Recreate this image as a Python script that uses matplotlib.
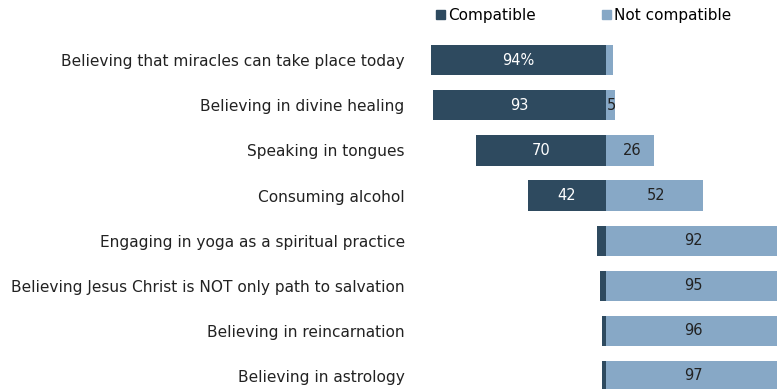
import matplotlib.pyplot as plt
from matplotlib.patches import Patch

plt.rcParams['font.family'] = ['DejaVu Sans']

items = ["Believing that miracles can take place today",
         "Believing in divine healing",
         "Speaking in tongues",
         "Consuming alcohol",
         "Engaging in yoga as a spiritual practice",
         "Believing Jesus Christ is NOT only path to salvation",
         "Believing in reincarnation",
         "Believing in astrology"]
compatible = [94, 93, 70, 42, 5, 3, 2, 2]
not_compatible = [4, 5, 26, 52, 92, 95, 96, 97]
comp_labels = ["94%", "93", "70", "42", "", "", "", ""]
nc_labels = ["", "5", "26", "52", "92", "95", "96", "97"]

dark = "#2e4a5f"
light = "#87a8c6"
txt = "#222222"

W, H = 777, 389
fig = plt.figure(figsize=(W / 100, H / 100), dpi=100)
ax = fig.add_axes([420 / W, 0, 1 - 420 / W, 1])

y = list(range(len(items)))
ax.barh(y, [-c for c in compatible], height=0.67, color=dark)
ax.barh(y, not_compatible, height=0.67, color=light)

xmax = (777 - 606) / 1.86
ax.set_xlim(-(606 - 420) / 1.86, xmax)
ax.set_ylim(7 + 13 / 45, -0.5 - 37.5 / 45)

for i in y:
    if comp_labels[i]:
        ax.text(-compatible[i] / 2, i, comp_labels[i], ha="center", va="center",
                color="white", fontsize=10.5)
    if nc_labels[i]:
        if not_compatible[i] < 8:
            ax.text(0.2, i, nc_labels[i], ha="left", va="center", color=txt, fontsize=10.5)
        else:
            cx = min(not_compatible[i], xmax) / 2 + 1
            ax.text(cx, i, nc_labels[i], ha="center", va="center", color=txt, fontsize=10.5)

ax.set_yticks(y)
ax.set_yticklabels(items, fontsize=11.1, color=txt)
ax.tick_params(axis="y", length=0, pad=11)
ax.set_xticks([])
for s in ax.spines.values():
    s.set_visible(False)

handles = [Patch(color=dark, label="Compatible"), Patch(color=light, label="Not compatible")]
fig.legend(handles=handles, loc="center left", bbox_to_anchor=(436 / W, 1 - 15.5 / H),
           ncol=2, frameon=False, fontsize=11, handlelength=0.6, handleheight=0.6,
           handletextpad=0.2, columnspacing=4.3, borderpad=0, borderaxespad=0)

fig.savefig("out.png", dpi=100)
